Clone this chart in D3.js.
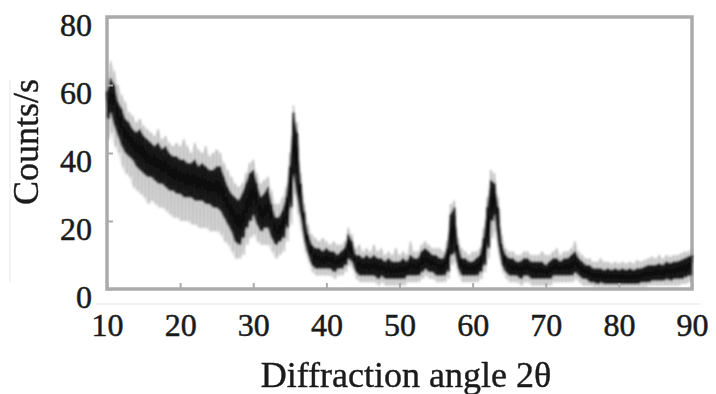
<!DOCTYPE html>
<html>
<head>
<meta charset="utf-8">
<script src="https://cdn.jsdelivr.net/npm/d3@7"></script>
<style>
  body { margin: 0; background: #fff; }
  svg { display: block; }
</style>
</head>
<body>
<div id="chart"></div>
<script>
// 2theta grid, 0.5 deg step from 10 to 90
const angles = d3.range(10, 90.001, 0.5)

// dark core of the noisy trace (lower / upper edge), counts/s
const darkLo = [50,52,48,45,42,40,39,38,36,35, 34,33,33,32,31,31,30,29,29,28,
  28,27,27,27,26,26,26,25,25,24, 24,23,21,19,17,14,13,15,18,20,
  22,19,17,18,18,15,13,14,15,18, 24,34,27,21,14,10,7,6,6,6,
  6,6,5,6,6,7,9,8,5,4, 4,4,4,4,3,4,3,3,3,3,
  3,3,4,4,4,4,5,6,5,5, 4,4,4,5,10,11,6,4,4,4,
  4,4,5,7,12,20,22,13,7,5, 4,4,4,3,4,4,3,3,3,3,
  3,3,4,4,4,4,4,4,5,4, 3,3,2,2,1.5,2,1.5,1.5,1.5,1.5,
  1.5,1.5,1.5,1.5,1.5,1.5,2,2,2,2.5, 2.5,2.5,2.5,3,2.5,3,3,3,3.5,4, 4]
const darkHi = [58,62,60,55,53,50,49,47,46,47, 45,44,43,42,43,41,42,40,39,39,
  38,38,37,37,38,36,37,36,35,35, 36,36,33,30,28,27,26,28,31,34,
  35,31,27,28,30,25,21,21,23,27, 36,52,46,31,22,16,13,12,12,11,
  12,11,11,10,11,12,16,14,10,10, 9,10,9,10,9,9,8,9,8,8,
  8,9,8,10,9,9,11,12,11,10, 10,9,9,12,22,24,13,9,9,8,
  8,9,10,15,24,32,31,24,13,10, 9,9,8,8,9,9,8,8,8,8,
  7,8,9,9,8,9,9,10,11,9, 8,7,7,6,6,6,5.5,6,5.5,6,
  5.5,6,5.5,6,5.5,6,6,6.5,7,7, 7,7.5,7,8,7.5,8,8,8.5,9,9.5, 10]

// light grey fringe of the noise (lower / upper edge)
const lightLo = [44,46,42,40,36,34,33,30,29,28, 27,25,26,25,24,24,23,22,21,21,
  20,20,20,19,19,18,18,18,17,17, 17,16,14,13,11,9,9,10,13,15,
  16,14,13,13,13,11,9,10,11,14, 19,28,22,17,11,8,5,4,4,4,
  4,4,3,4,4,5,7,6,3,2, 2,2,2,2,1,2,1,1,1,1,
  1,1,2,2,2,2,3,4,3,3, 2,2,2,3,7,8,4,2,2,2,
  2,2,3,5,9,15,17,10,5,3, 2,2,2,1,2,2,1,1,1,1,
  1,1,2,2,2,2,2,2,3,2, 1,1,1,0.5,0.5,0.5,0.5,0.5,0.5,0.5,
  0.5,0.5,0.5,0.5,0.5,0.5,0.5,0.5,1,1, 1,1,1,1,1,1,1,1.5,1.5,2, 2]
const lightHi = [62,67,64,60,57,55,52,51,49,50, 48,47,46,45,47,44,45,43,42,43,
  42,44,42,40,43,41,40,42,39,40, 41,40,37,35,33,31,30,31,34,37,
  38,34,31,32,33,29,25,25,27,30, 40,54,49,34,25,19,16,15,14,15,
  14,13,14,13,13,14,18,16,12,13, 11,12,11,13,11,12,10,11,10,12,
  10,11,10,14,11,11,13,14,13,12, 12,12,11,14,25,26,15,12,11,10,
  11,11,12,18,27,35,34,27,16,12, 11,11,10,10,11,11,10,10,10,11,
  10,10,11,12,10,11,11,12,14,11, 10,9,9,8,8,9,8,8,7.5,8,
  7.5,8,7.5,8,7.5,8.5,8,8.5,9,9.5, 9,10,9,10,9.5,10,10,10.5,11,11, 12]

const xTicks = [10, 20, 30, 40, 50, 60, 70, 80, 90]
const yTicks = [0, 20, 40, 60, 80]

const width = 716, height = 394
const plotLeft = 107, plotRight = 692, plotTop = 17, plotBottom = 289

const svg = d3.select('#chart').append('svg')
  .attr('width', width).attr('height', height)

// the scan is a bit soft, blur the trace a little
const defs = svg.append('defs')
defs.append('filter').attr('id', 'soft')
  .append('feGaussianBlur').attr('stdDeviation', 0.8)
defs.append('filter').attr('id', 'softer')
  .append('feGaussianBlur').attr('stdDeviation', 0.45)

const x = d3.scaleLinear().domain([10, 90]).range([plotLeft, plotRight])
const y = d3.scaleLinear().domain([0, 80]).range([plotBottom, plotTop])

// faint scan artefact lines around the figure
svg.append('line').attr('x1', 96).attr('x2', 700).attr('y1', 304).attr('y2', 304)
  .attr('stroke', '#ececec').attr('stroke-width', 1.5)
svg.append('line').attr('x1', 10).attr('x2', 10).attr('y1', 80).attr('y2', 282)
  .attr('stroke', '#efefef').attr('stroke-width', 1.5)

// plot frame
svg.append('rect')
  .attr('x', plotLeft).attr('y', plotTop)
  .attr('width', plotRight - plotLeft).attr('height', plotBottom - plotTop)
  .attr('fill', 'none').attr('stroke', '#ababab').attr('stroke-width', 3.5)

const pts = angles.map((a, i) => ({a: a, l1: lightLo[i], l2: lightHi[i], d1: darkLo[i], d2: darkHi[i]}))

// the counts jump up and down between the edges, so draw it as a zigzag:
// top edge at the grid angle, bottom edge a quarter degree further on
function zig(lo, hi) {
  const out = []
  pts.forEach(p => {
    out.push([p.a, p[hi]])
    if (p.a < 90) out.push([p.a + 0.25, p[lo]])
  })
  return out
}
const zigLine = d3.line().x(d => x(d[0])).y(d => y(d[1]))

const trace = svg.append('g').attr('filter', 'url(#soft)')

// light haze + noise strands
trace.append('path').datum(pts)
  .attr('d', d3.area().x(d => x(d.a)).y0(d => y(d.l1)).y1(d => y(d.l2)))
  .attr('fill', '#a0a0a0').attr('opacity', 0.3)

trace.append('path').datum(zig('l1', 'l2'))
  .attr('d', zigLine)
  .attr('fill', 'none').attr('stroke', '#8c8c8c').attr('stroke-width', 1)
  .attr('opacity', 0.55)

// dark core
trace.append('path').datum(pts)
  .attr('d', d3.area().x(d => x(d.a)).y0(d => y(d.d1)).y1(d => y(d.d2)))
  .attr('fill', '#2a2a2a')

trace.append('path').datum(zig('d1', 'd2'))
  .attr('d', zigLine)
  .attr('fill', 'none').attr('stroke', '#0e0e0e').attr('stroke-width', 1.8)

// axes, small inward ticks, serif labels
const font = '"Liberation Serif", "Times New Roman", serif'

const xAxis = svg.append('g')
  .attr('transform', 'translate(0,' + plotBottom + ')')
  .call(d3.axisBottom(x).tickValues(xTicks).tickSizeInner(-6).tickSizeOuter(0).tickPadding(0))
xAxis.select('.domain').remove()
xAxis.selectAll('line').attr('stroke', '#ababab').attr('stroke-width', 2)
xAxis.selectAll('text')
  .attr('y', 36).attr('dy', '0.35em')
  .style('font-family', font).style('font-size', '32px')
  .attr('fill', '#1a1a1a').attr('stroke', '#1a1a1a').attr('stroke-width', 0.5)

const yAxis = svg.append('g')
  .attr('transform', 'translate(' + plotLeft + ',0)')
  .call(d3.axisLeft(y).tickValues(yTicks).tickSizeInner(-6).tickSizeOuter(0).tickPadding(15))
yAxis.select('.domain').remove()
yAxis.selectAll('line').attr('stroke', '#ababab').attr('stroke-width', 2)
yAxis.selectAll('text')
  .attr('y', 8)
  .style('font-family', font).style('font-size', '32px')
  .attr('fill', '#1a1a1a').attr('stroke', '#1a1a1a').attr('stroke-width', 0.5)

// axis titles
svg.append('text')
  .attr('x', 406).attr('y', 387)
  .attr('text-anchor', 'middle')
  .attr('filter', 'url(#softer)')
  .style('font-family', font).style('font-size', '36px')
  .attr('fill', '#1a1a1a').attr('stroke', '#1a1a1a').attr('stroke-width', 0.4)
  .text('Diffraction angle 2θ')

svg.append('text')
  .attr('transform', 'translate(25,142) rotate(-90)')
  .attr('text-anchor', 'middle').attr('dy', '0.35em')
  .attr('filter', 'url(#softer)')
  .style('font-family', font).style('font-size', '36px')
  .attr('fill', '#1a1a1a').attr('stroke', '#1a1a1a').attr('stroke-width', 0.4)
  .text('Counts/s')
</script>
</body>
</html>
